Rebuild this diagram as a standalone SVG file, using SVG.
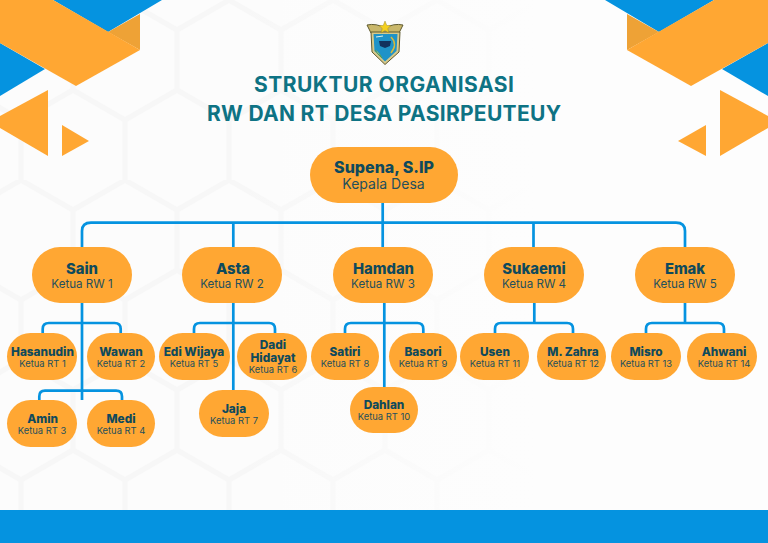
<svg xmlns="http://www.w3.org/2000/svg" width="768" height="543" viewBox="0 0 768 543">
<style>
text{font-family:"Inter","Open Sans","Liberation Sans",sans-serif;text-anchor:middle;fill:#0f4a5c}
.t{font-size:21px;font-weight:700;fill:#0e7384}
.n0{font-size:16px;font-weight:800}
.s0{font-size:14px;font-weight:400;fill:#24505c}
.n1{font-size:14.8px;font-weight:800}
.s1{font-size:11.6px;font-weight:400;fill:#24505c}
.n2{font-size:11.8px;font-weight:800}
.s2{font-size:9.4px;font-weight:400;fill:#24505c}
.o{fill:#ffa733}
.b{fill:#0593e0}
.d{fill:#eea236}
.box{fill:#ffa733}
.c{fill:none;stroke:#0593e0;stroke-width:2.7}
</style>
<defs>
<pattern id="honey" width="104" height="180" patternUnits="userSpaceOnUse" patternTransform="translate(21 0)">
<rect width="104" height="180" fill="#fcfcfc"/>
<path d="M0,0 L52,30 L104,0 M52,30 V90 M0,120 L52,90 L104,120 M0,120 V180 M104,120 V180" fill="none" stroke="#f7f7f7" stroke-width="5"/>
</pattern>
<linearGradient id="fade" x1="0" x2="1" y1="0" y2="0">
<stop offset="0.3" stop-color="#fdfdfd" stop-opacity="0"/>
<stop offset="0.7" stop-color="#fdfdfd" stop-opacity="1"/>
</linearGradient>
</defs>
<g id="background">
<rect width="768" height="543" fill="url(#honey)"/>
<rect width="768" height="543" fill="url(#fade)"/>
<rect y="510" width="768" height="33" class="b"/>
<polygon class="b" points="53,0 162,0 108,32"/>
<polygon class="d" points="108,32 140,14 140,50"/>
<polygon class="b" points="0,43 45,69 0,96"/>
<polygon class="o" points="0,0 53,0 140,50 76,86 0,43"/>
<polygon class="o" points="48,90 48,156 0,128 0,116"/>
<polygon class="o" points="62,125 89,141 62,156"/>
<polygon class="b" points="605,0 714,0 659,32"/>
<polygon class="d" points="627,14 659,32 627,50"/>
<polygon class="b" points="722,69 768,43 768,96"/>
<polygon class="o" points="714,0 768,0 768,43 691,86 627,50"/>
<polygon class="o" points="720,90 768,116 768,128 720,156"/>
<polygon class="o" points="706,125 678,141 706,156"/>
</g>
<g id="logo">
<path d="M367,25 Q376,23 385,28 Q394,23 403,25 L399,33 H371 Z" fill="#c9b76a" stroke="#5f5a30" stroke-width="1"/>
<path d="M371,32 H400 L399,52 L385,64.500 L372,52 Z" fill="#d8c98a" stroke="#5f5a30" stroke-width="1"/>
<path d="M373.500,34 H397.500 L396.500,51 L385,61.500 L374.500,51 Z" fill="#1f93c8"/>
<polygon points="385,21 386.800,25.500 391,25.500 387.800,28.500 389,33 385,30.500 381,33 382.200,28.500 379,25.500 383.200,25.500" fill="#f4d020" stroke="#8a7a20" stroke-width=".4"/>
<path d="M379,41 H391 L390,46 L385,48 L380,46 Z" fill="#12325e"/>
<path d="M391,37 Q398,44 391,53" fill="none" stroke="#d8b93a" stroke-width="1.500"/>
<path d="M375,50 Q379,52 382,58 L378,54 Z" fill="#e8f2e8" stroke="#4c9a5a" stroke-width="1"/>
<path d="M376,37 L383,36" stroke="#dff0e8" stroke-width="1.200"/>
</g>
<g id="title">
<text class="t" x="384" y="92" textLength="260">STRUKTUR ORGANISASI</text>
<text class="t" x="384" y="121" textLength="354">RW DAN RT DESA PASIRPEUTEUY</text>
</g>
<g id="connectors">
<path class="c" d="M382.700,203 V247 M82,247 V231 Q82,222.600 91,222.600 H676 Q685,222.600 685,231 V247 M233.300,222.600 V247 M533.500,222.600 V247"/>
<path class="c" d="M82,303 V400 M42.700,333 V329 Q42.700,323 49,323 H114.500 Q120.700,323 120.700,329 V333 M39.300,400 V396.500 Q39.300,390.700 45,390.700 H116 Q122,390.700 122,396.500 V400"/>
<path class="c" d="M233.300,303 V390 M194,333 V329 Q194,323 200,323 H269 Q275,323 275,329 V333"/>
<path class="c" d="M384.300,303 V387 M345,333 V329 Q345,323 351,323 H417.300 Q423.300,323 423.300,329 V333"/>
<path class="c" d="M534.300,303 V323 M495,333 V329 Q495,323 501,323 H567 Q573,323 573,329 V333"/>
<path class="c" d="M685,303 V323 M646,333 V329 Q646,323 652,323 H718 Q724,323 724,329 V333"/>
</g>
<g id="supena"><rect class="box" x="310" y="147" width="148" height="56" rx="28"/><text class="n0" x="384" y="173">Supena, S.IP</text><text class="s0" x="383.500" y="189">Kepala Desa</text></g>
<g id="sain"><rect class="box" x="32" y="247" width="100" height="56" rx="28"/><text class="n1" x="82" y="273.500">Sain</text><text class="s1" x="82" y="287.500">Ketua RW 1</text></g>
<g id="asta"><rect class="box" x="182" y="247" width="100" height="56" rx="28"/><text class="n1" x="233" y="273.500">Asta</text><text class="s1" x="232" y="287.500">Ketua RW 2</text></g>
<g id="hamdan"><rect class="box" x="333" y="247" width="100" height="56" rx="28"/><text class="n1" x="383.500" y="273.500">Hamdan</text><text class="s1" x="383" y="287.500">Ketua RW 3</text></g>
<g id="sukaemi"><rect class="box" x="484" y="247" width="100" height="56" rx="28"/><text class="n1" x="534" y="273.500">Sukaemi</text><text class="s1" x="534" y="287.500">Ketua RW 4</text></g>
<g id="emak"><rect class="box" x="635" y="247" width="100" height="56" rx="28"/><text class="n1" x="685" y="273.500">Emak</text><text class="s1" x="685" y="287.500">Ketua RW 5</text></g>
<g id="hasanudin"><rect class="box" x="7" y="333" width="70" height="47" rx="23.500"/><text class="n2" x="42.500" y="355.500">Hasanudin</text><text class="s2" x="42.500" y="367">Ketua RT 1</text></g>
<g id="wawan"><rect class="box" x="87" y="333" width="68" height="47" rx="23.500"/><text class="n2" x="121" y="355.500">Wawan</text><text class="s2" x="121" y="367">Ketua RT 2</text></g>
<g id="amin"><rect class="box" x="7" y="400" width="70" height="47" rx="23.500"/><text class="n2" x="42.700" y="422.500">Amin</text><text class="s2" x="42" y="434">Ketua RT 3</text></g>
<g id="medi"><rect class="box" x="87" y="400" width="68" height="47" rx="23.500"/><text class="n2" x="121" y="422.500">Medi</text><text class="s2" x="121" y="434">Ketua RT 4</text></g>
<g id="edi"><rect class="box" x="159" y="333" width="71" height="47" rx="23.500"/><text class="n2" x="194" y="355.500">Edi Wijaya</text><text class="s2" x="194" y="367">Ketua RT 5</text></g>
<g id="dadi"><rect class="box" x="237" y="333" width="70" height="47" rx="23.500"/><text class="n2" x="273" y="348.500">Dadi</text><text class="n2" x="273" y="361.500">Hidayat</text><text class="s2" x="273" y="373">Ketua RT 6</text></g>
<g id="jaja"><rect class="box" x="199" y="390" width="70" height="47" rx="23.500"/><text class="n2" x="234" y="412.500">Jaja</text><text class="s2" x="234" y="424">Ketua RT 7</text></g>
<g id="satiri"><rect class="box" x="311" y="333" width="68" height="47" rx="23.500"/><text class="n2" x="345" y="355.500">Satiri</text><text class="s2" x="345" y="367">Ketua RT 8</text></g>
<g id="basori"><rect class="box" x="389" y="333" width="68" height="47" rx="23.500"/><text class="n2" x="423" y="355.500">Basori</text><text class="s2" x="423" y="367">Ketua RT 9</text></g>
<g id="dahlan"><rect class="box" x="350" y="387" width="68" height="46" rx="23"/><text class="n2" x="384" y="408.500">Dahlan</text><text class="s2" x="384" y="420">Ketua RT 10</text></g>
<g id="usen"><rect class="box" x="460" y="333" width="69" height="47" rx="23.500"/><text class="n2" x="495" y="355.500">Usen</text><text class="s2" x="495" y="367">Ketua RT 11</text></g>
<g id="zahra"><rect class="box" x="537" y="333" width="69" height="47" rx="23.500"/><text class="n2" x="573" y="355.500">M. Zahra</text><text class="s2" x="573" y="367">Ketua RT 12</text></g>
<g id="misro"><rect class="box" x="611" y="333" width="70" height="47" rx="23.500"/><text class="n2" x="646" y="355.500">Misro</text><text class="s2" x="646" y="367">Ketua RT 13</text></g>
<g id="ahwani"><rect class="box" x="687" y="333" width="70" height="47" rx="23.500"/><text class="n2" x="724" y="355.500">Ahwani</text><text class="s2" x="724" y="367">Ketua RT 14</text></g>
</svg>
